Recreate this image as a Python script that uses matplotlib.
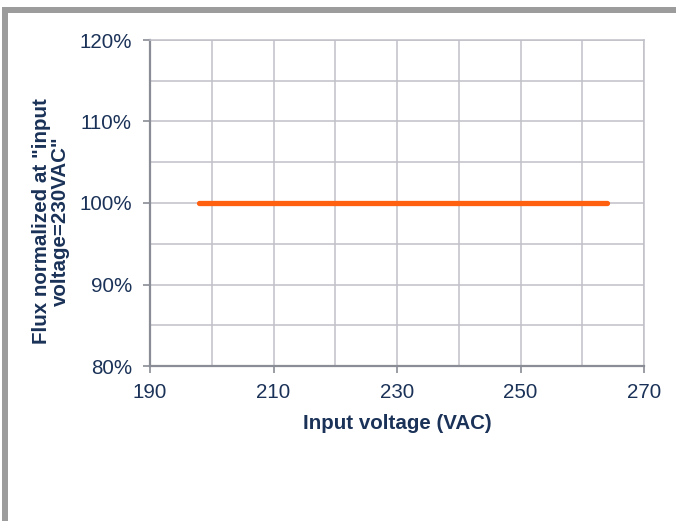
import matplotlib
matplotlib.use("Agg")
import matplotlib.pyplot as plt
from matplotlib.patches import Rectangle
from matplotlib.ticker import MultipleLocator, FuncFormatter

voltage = [198, 264]
flux = [1.00, 1.00]
x_ticks = [190, 210, 230, 250, 270]
y_ticks = [0.8, 0.9, 1.0, 1.1, 1.2]

W, H = 676, 521
dpi = 100
plt.rcParams['font.family'] = ['Liberation Sans', 'DejaVu Sans']
txt = '#1B3258'
fs = 14.8

fig = plt.figure(figsize=(W / dpi, H / dpi), dpi=dpi)
fig.patch.set_facecolor('white')
ax = fig.add_axes([150 / W, 1 - 366 / H, (644 - 150) / W, (366 - 40) / H])

ax.plot(voltage, flux, color='#FF6010', lw=3.8, solid_capstyle='round', zorder=3)

ax.set_xlim(190, 270)
ax.set_ylim(0.8, 1.2)
ax.set_xticks(x_ticks)
ax.set_yticks(y_ticks)
ax.xaxis.set_minor_locator(MultipleLocator(10))
ax.yaxis.set_minor_locator(MultipleLocator(0.05))
ax.yaxis.set_major_formatter(FuncFormatter(lambda v, p: f"{v*100:.0f}%"))
ax.grid(True, which='both', color='#C0C0C8', lw=1.1, zorder=0)
ax.set_axisbelow(True)
ax.tick_params(which='major', length=5, width=1.2, color='#8A8C96',
               labelsize=fs, labelcolor=txt)
ax.tick_params(axis='y', which='major', pad=8)
ax.tick_params(axis='x', which='major', pad=7)
ax.tick_params(which='minor', length=0)
for s in ['left', 'bottom']:
    ax.spines[s].set_color('#8A8C96')
    ax.spines[s].set_linewidth(1.6)
for s in ['top', 'right']:
    ax.spines[s].set_color('#C0C0C8')
    ax.spines[s].set_linewidth(1.1)

ax.set_xlabel('Input voltage (VAC)', fontsize=fs, fontweight='bold', color=txt, labelpad=9)

fig.text(51 / W, 1 - 221 / H, 'Flux normalized at "input\nvoltage=230VAC"',
         rotation=90, ha='center', va='center', fontsize=fs, fontweight='bold',
         color=txt, linespacing=1.05, multialignment='center')

# outer frame
fig.add_artist(Rectangle((2 / W, 1 - 13 / H), 1, 6 / H, transform=fig.transFigure,
                         facecolor='#9C9C9C', edgecolor='none'))
fig.add_artist(Rectangle((2 / W, 0), 6 / W, 1 - 7 / H, transform=fig.transFigure,
                         facecolor='#9C9C9C', edgecolor='none'))

fig.savefig('out.png', dpi=dpi, facecolor='white')
